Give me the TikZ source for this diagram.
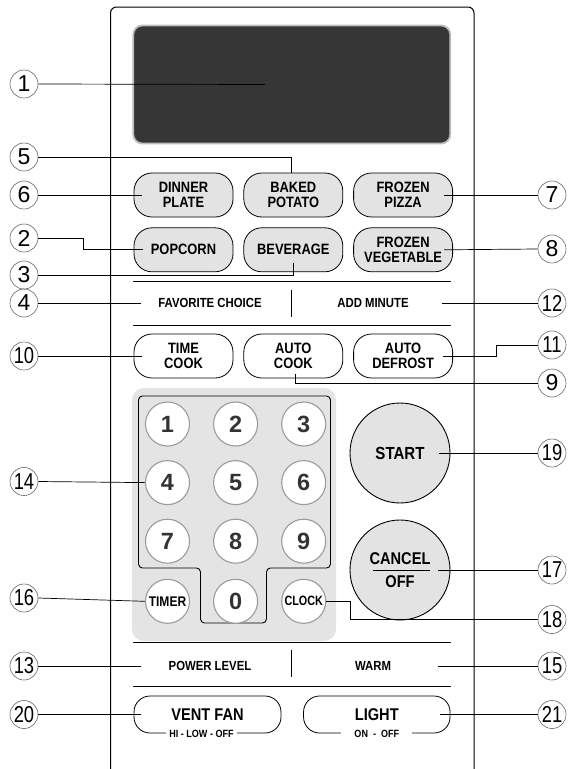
\documentclass[tikz,border=0pt]{standalone}
\usepackage{fontspec}
\setmainfont{Liberation Sans}
\newfontfamily\condsans{Liberation Sans}[FakeStretch=0.86]
\newfontfamily\narrowsans{Liberation Sans}[FakeStretch=0.8]
\usetikzlibrary{positioning}
\definecolor{btngray}{HTML}{E3E3E3}
\definecolor{padgray}{HTML}{E4E4E4}
\definecolor{keyedge}{HTML}{9B9B9B}
\definecolor{dispgray}{HTML}{363636}
\definecolor{dispedge}{HTML}{BDBDBD}
\definecolor{inkgray}{HTML}{333333}

\begin{document}
\begin{tikzpicture}[
  x=1pt, y=-1pt,
  callout/.style={
    circle,
    draw=black!60,
    line width=0.6pt,
    minimum size=28pt,
    inner sep=0pt,
    font=\fontsize{23}{23}\selectfont
  },
  callout2/.style={
    callout,
    font=\narrowsans\fontsize{23}{23}\selectfont
  },
  pill/.style={
    draw,
    line width=0.8pt,
    fill=btngray,
    rounded corners=18pt,
    minimum width=99pt,
    minimum height=44pt,
    inner sep=0pt,
    align=center,
    font=\condsans\bfseries\fontsize{15}{15}\selectfont
  },
  widepill/.style={
    pill,
    fill=white,
    rounded corners=16pt,
    minimum height=37pt,
    font=\condsans\bfseries\fontsize{17}{17}\selectfont
  },
  sublbl/.style={
    fill=white,
    inner ysep=1pt,
    font=\condsans\bfseries\fontsize{10.5}{10.5}\selectfont
  },
  lbl/.style={
    minimum width=150pt,
    inner sep=0pt,
    font=\condsans\bfseries\fontsize{13.2}{13.2}\selectfont
  },
  key/.style={
    circle,
    draw=keyedge,
    line width=1.1pt,
    fill=white,
    minimum size=44pt,
    inner sep=0pt,
    text=inkgray,
    font=\bfseries\fontsize{23.5}{23.5}\selectfont
  },
  smallkey/.style={
    key,
    text=black,
    font=\narrowsans\bfseries\fontsize{13.5}{13.5}\selectfont
  },
  bigkey/.style={
    circle,
    draw,
    line width=0.9pt,
    fill=btngray,
    minimum size=100pt,
    inner sep=0pt,
    align=center,
    font=\condsans\bfseries\fontsize{17.5}{23}\selectfont
  },
  lead/.style={line width=0.7pt},
  sepline/.style={line width=0.9pt}
]
\useasboundingbox (0,0) rectangle (568,769);

% panel and display
\draw[line width=1pt, rounded corners=6pt] (110.5,769) -- (110.5,7) -- (474,7) -- (474,769);
\node[draw=dispedge, line width=1.8pt, fill=dispgray, rounded corners=9pt,
      minimum width=317pt, minimum height=118pt] (display) at (291.8,84.5) {};

% food buttons
\node[pill] (dinner) at (183.5,195) {DINNER\\PLATE};
\node[pill,right=10pt of dinner] (baked) {BAKED\\POTATO};
\node[pill,right=10pt of baked] (pizza) {FROZEN\\PIZZA};
\node[pill,below=10pt of dinner] (popcorn) {POPCORN};
\node[pill,right=10pt of popcorn] (beverage) {BEVERAGE};
\node[pill,right=10pt of beverage] (frozveg) {FROZEN\\VEGETABLE};

\draw[sepline] (133,281.5) -- (451,281.5);
\node[lbl] (fav) at (210,303) {FAVORITE CHOICE};
\node[lbl] (add) at (373,303) {ADD MINUTE};
\draw[sepline] (291.5,290) -- (291.5,317);
\draw[sepline] (133,325) -- (451,325);

\node[pill,fill=white] (timecook) at (183.5,356) {TIME\\COOK};
\node[pill,fill=white,right=10pt of timecook] (autocook) {AUTO\\COOK};
\node[pill,fill=white,right=10pt of autocook] (autodefrost) {AUTO\\DEFROST};

% number pad
\fill[padgray, rounded corners=12pt] (132,388) rectangle (336,641);
\draw[line width=0.9pt, rounded corners=4pt] (138.5,396) -- (330.5,396) -- (330.5,568)
  -- (266.5,568) -- (266.5,623) -- (200.5,623) -- (200.5,568) -- (138.5,568) -- cycle;
\node[key] (k1) at (167.5,424) {1};
\node[key,right=23pt of k1] (k2) {2};
\node[key,right=23pt of k2] (k3) {3};
\node[key,below=13.5pt of k1] (k4) {4};
\node[key,right=23pt of k4] (k5) {5};
\node[key,right=23pt of k5] (k6) {6};
\node[key,below=13.5pt of k4] (k7) {7};
\node[key,right=23pt of k7] (k8) {8};
\node[key,right=23pt of k8] (k9) {9};
\node[smallkey,below=15pt of k7,font=\condsans\bfseries\fontsize{14}{14}\selectfont] (timer) {TIMER};
\node[key,below=15pt of k8] (k0) {0};
\node[smallkey,below=15pt of k9] (clock) {CLOCK};

\node[bigkey] (start) at (400,453) {START};
\node[bigkey,font=\condsans\bfseries\fontsize{17}{23}\selectfont] (cancel) at (400,570) {CANCEL\\OFF};
\draw[line width=0.8pt] ([xshift=-27pt]cancel.center) -- ([xshift=30pt]cancel.center);

\draw[sepline] (133,642.5) -- (451,642.5);
\node[lbl] (power) at (210,666) {POWER LEVEL};
\node[lbl] (warm) at (373,666) {WARM};
\draw[sepline] (291.5,650) -- (291.5,677);
\draw[sepline] (133,686) -- (451,686);

\node[widepill,minimum width=147pt] (ventfan) at (207.5,714.5) {VENT FAN};
\node[sublbl] (ventsub) at ([xshift=-6pt]ventfan.south) {HI - LOW - OFF};
\node[widepill,minimum width=146.5pt] (light) at (376.8,714.5) {LIGHT};
\node[sublbl,inner xsep=13pt] (lightsub) at (light.south) {ON \ - \ OFF};

% callouts
\node[callout] (c1) at (24,84) {1};
\node[callout] (c5) at (24,157) {5};
\node[callout] (c6) at (24,195) {6};
\node[callout] (c2) at (24,238) {2};
\node[callout] (c3) at (24,275) {3};
\node[callout] (c4) at (24,303) {4};
\node[callout2] (c10) at (24,356) {10};
\node[callout2] (c14) at (24,481.5) {14};
\node[callout2] (c16) at (24,598) {16};
\node[callout2] (c13) at (24,666) {13};
\node[callout2] (c20) at (24,714.5) {20};
\node[callout] (c7) at (552,195) {7};
\node[callout] (c8) at (552,249) {8};
\node[callout2] (c12) at (552,303) {12};
\node[callout2] (c11) at (552,345) {11};
\node[callout] (c9) at (552,383) {9};
\node[callout2] (c19) at (552,453) {19};
\node[callout2] (c17) at (552,570) {17};
\node[callout2] (c18) at (552,619.5) {18};
\node[callout2] (c15) at (552,666) {15};
\node[callout2] (c21) at (552,714.5) {21};

% leaders
\draw[lead] (c1.east) -- ([xshift=-27pt]display.center);
\draw[lead] (c5.east) -| ([xshift=-2pt]baked.north);
\draw[lead] (c6.east) -- ([xshift=8pt]dinner.west);
\draw[lead] (c2.east) -- ++(45,0) |- ([xshift=9pt]popcorn.west);
\draw[lead] (c3.east) -| ([yshift=9pt]beverage.south);
\draw[lead] (c7.west) -- ([xshift=-9pt]pizza.east);
\draw[lead] (c8.west) -- ([xshift=-9pt]frozveg.east);
\draw[lead] (c4.east) -- ([xshift=6pt]fav.west);
\draw[lead] (c12.west) -- ([xshift=-6pt]add.east);
\draw[lead] (c10.east) -- ([xshift=8pt]timecook.west);
\draw[lead] (c11.west) -- ++(-41,0) |- ([xshift=-10pt]autodefrost.east);
\draw[lead] (c9.west) -| ([xshift=2pt,yshift=4pt]autocook.south);
\draw[lead] (c14.east) -- (k4.west);
\draw[lead] (c16.east) -- (timer.west);
\draw[lead] (clock.east) -- ++(24,0) |- (c18.west);
\draw[lead] (c19.west) -- ([xshift=-11pt]start.east);
\draw[lead] (c17.west) -- ([xshift=-12pt]cancel.east);
\draw[lead] (c13.east) -- ([xshift=6pt]power.west);
\draw[lead] (c15.west) -- ([xshift=-10pt]warm.east);
\draw[lead] (c20.east) -- ([xshift=7pt]ventfan.west);
\draw[lead] (c21.west) -- ([xshift=-10pt]light.east);
\end{tikzpicture}
\end{document}
